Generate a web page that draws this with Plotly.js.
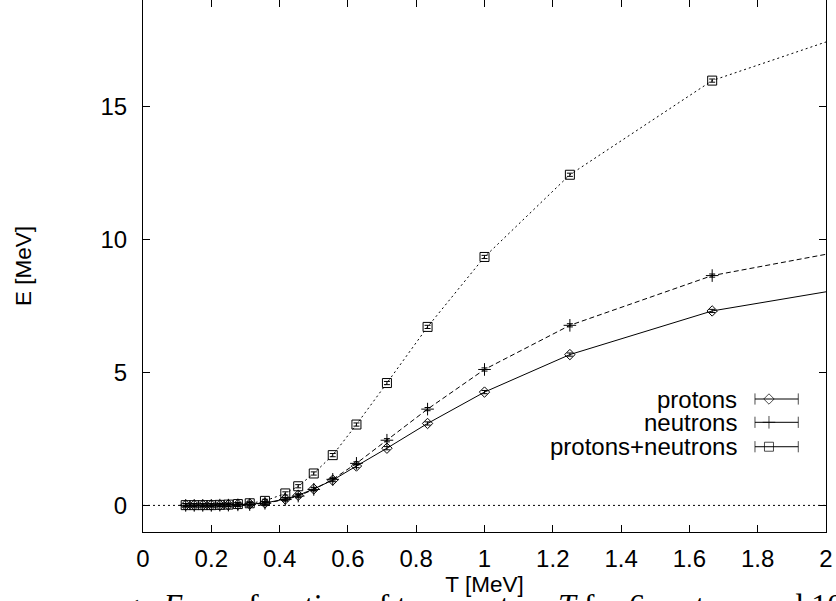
<!DOCTYPE html>
<html>
<head>
<meta charset="utf-8">
<script src="https://cdn.plot.ly/plotly-3.0.1.min.js"></script>
<style>
  html, body { margin: 0; padding: 0; background: #ffffff; overflow: hidden; }
  #chart { width: 836px; height: 601px; }
</style>
</head>
<body>
<div id="chart"></div>
<script>
// ---- data ----
const temperature = [0.125, 0.15, 0.175, 0.2, 0.225, 0.25, 0.2778, 0.3125, 0.3571, 0.4167, 0.4545, 0.5, 0.5556, 0.625, 0.7143, 0.8333, 1.0, 1.25, 1.6667, 2.5];
const protonsE    = [0.01, 0.01, 0.01, 0.01, 0.01, 0.02, 0.03, 0.05, 0.09, 0.24, 0.38, 0.62, 0.95, 1.48, 2.15, 3.08, 4.26, 5.67, 7.31, 9.11];
const neutronsE   = [0.0, 0.0, 0.0, 0.0, 0.01, 0.01, 0.02, 0.03, 0.08, 0.22, 0.35, 0.60, 0.98, 1.58, 2.45, 3.62, 5.11, 6.77, 8.64, 10.64];
const totalE      = [0.01, 0.01, 0.01, 0.01, 0.02, 0.03, 0.05, 0.08, 0.17, 0.45, 0.72, 1.20, 1.89, 3.04, 4.60, 6.71, 9.34, 12.43, 15.97, 19.6];
const seriesNames = ['protons', 'neutrons', 'protons+neutrons'];
const xTickVals   = [0, 0.2, 0.4, 0.6, 0.8, 1, 1.2, 1.4, 1.6, 1.8, 2];
const xTickText   = ['0', '0.2', '0.4', '0.6', '0.8', '1', '1.2', '1.4', '1.6', '1.8', '2'];
const yTickVals   = [0, 5, 10, 15];
const yTickText   = ['0', '5', '10', '15'];
const xTitle = 'T [MeV]';
const yTitle = 'E [MeV]';
const caption = 'energy <i>E</i> as a function of temperature <i>T</i> for 6 protons and 10 neutrons';

// ---- styles ----
const FONT = 'Liberation Sans, Arial, Helvetica, sans-serif';
const styles = [
  { symbol: 'diamond-open',    size: 8, dash: 'solid' },
  { symbol: 'cross-thin-open', size: 9, dash: '5px,3px' },
  { symbol: 'square-open',     size: 9, dash: '2px,3px' }
];
const values = [protonsE, neutronsE, totalE];

const traces = values.map((ys, i) => ({
  type: 'scatter',
  mode: 'lines+markers',
  name: seriesNames[i],
  x: temperature,
  y: ys,
  xaxis: 'x', yaxis: 'y',
  line: { color: '#000', width: 1, dash: styles[i].dash },
  marker: { symbol: styles[i].symbol, size: styles[i].size, color: '#000', line: { color: '#000', width: 1 } },
  error_y: { type: 'constant', value: 0.06, width: 3, thickness: 1, color: '#000' },
  showlegend: false,
  hoverinfo: 'x+y+name'
}));

// custom gnuplot-style key (text on the left, sample on the right), drawn on an overlay axis in [0,1]
const keyRows = [0.25, 0.2062, 0.1603];
const keyLineX = [0.896, 0.9165, 0.9594];
const keyTextX = 0.873;
const annotations = [];
keyRows.forEach((ry, i) => {
  traces.push({
    type: 'scatter', mode: 'lines+markers',
    x: keyLineX, y: [ry, ry, ry],
    xaxis: 'x2', yaxis: 'y2',
    line: { color: '#000', width: 1 },
    marker: { symbol: ['line-ns-open', styles[i].symbol, 'line-ns-open'], size: [8, styles[i].size, 8], color: '#000', line: { color: '#000', width: 1 } },
    showlegend: false, hoverinfo: 'skip', cliponaxis: false
  });
  annotations.push({
    xref: 'paper', yref: 'paper', x: keyTextX, y: ry, xanchor: 'right', yanchor: 'middle',
    text: seriesNames[i], showarrow: false, font: { family: FONT, size: 24, color: '#000' }
  });
});

annotations.push({
  xref: 'paper', yref: 'paper', x: -0.111, y: -0.137, xanchor: 'left', yanchor: 'middle',
  text: caption, showarrow: false, font: { family: 'Liberation Serif, Times New Roman, serif', size: 32, color: '#000' }
});

const axisCommon = {
  showline: true, linecolor: '#000', linewidth: 1, mirror: 'ticks',
  ticks: 'inside', ticklen: 7, tickwidth: 1, tickcolor: '#000',
  showgrid: false, zeroline: false,
  tickfont: { family: FONT, size: 24, color: '#000' }
};

const layout = {
  width: 836, height: 601,
  margin: { l: 143, r: 10, t: 0, b: 69, pad: 0 },
  paper_bgcolor: '#fff', plot_bgcolor: '#fff',
  showlegend: false,
  font: { family: FONT, color: '#000' },
  xaxis: Object.assign({}, axisCommon, {
    range: [0, 2], tickmode: 'array', tickvals: xTickVals, ticktext: xTickText,
    ticklabelstandoff: 5,
    title: { text: xTitle, font: { family: FONT, size: 22.5, color: '#000' }, standoff: 0 }
  }),
  yaxis: Object.assign({}, axisCommon, {
    range: [-1, 19], tickmode: 'array', tickvals: yTickVals, ticktext: yTickText,
    ticklabelstandoff: 10,
    title: { text: yTitle, font: { family: FONT, size: 22.5, color: '#000' }, standoff: 62 }
  }),
  xaxis2: { overlaying: 'x', range: [0, 1], visible: false, fixedrange: true },
  yaxis2: { overlaying: 'y', range: [0, 1], visible: false, fixedrange: true },
  shapes: [{
    type: 'line', xref: 'paper', x0: 0, x1: 1, yref: 'y', y0: 0, y1: 0,
    line: { color: '#000', width: 1, dash: '2px,3px' }, layer: 'below'
  }],
  annotations: annotations
};

Plotly.newPlot('chart', traces, layout, { staticPlot: true, displayModeBar: false });
</script>
</body>
</html>
